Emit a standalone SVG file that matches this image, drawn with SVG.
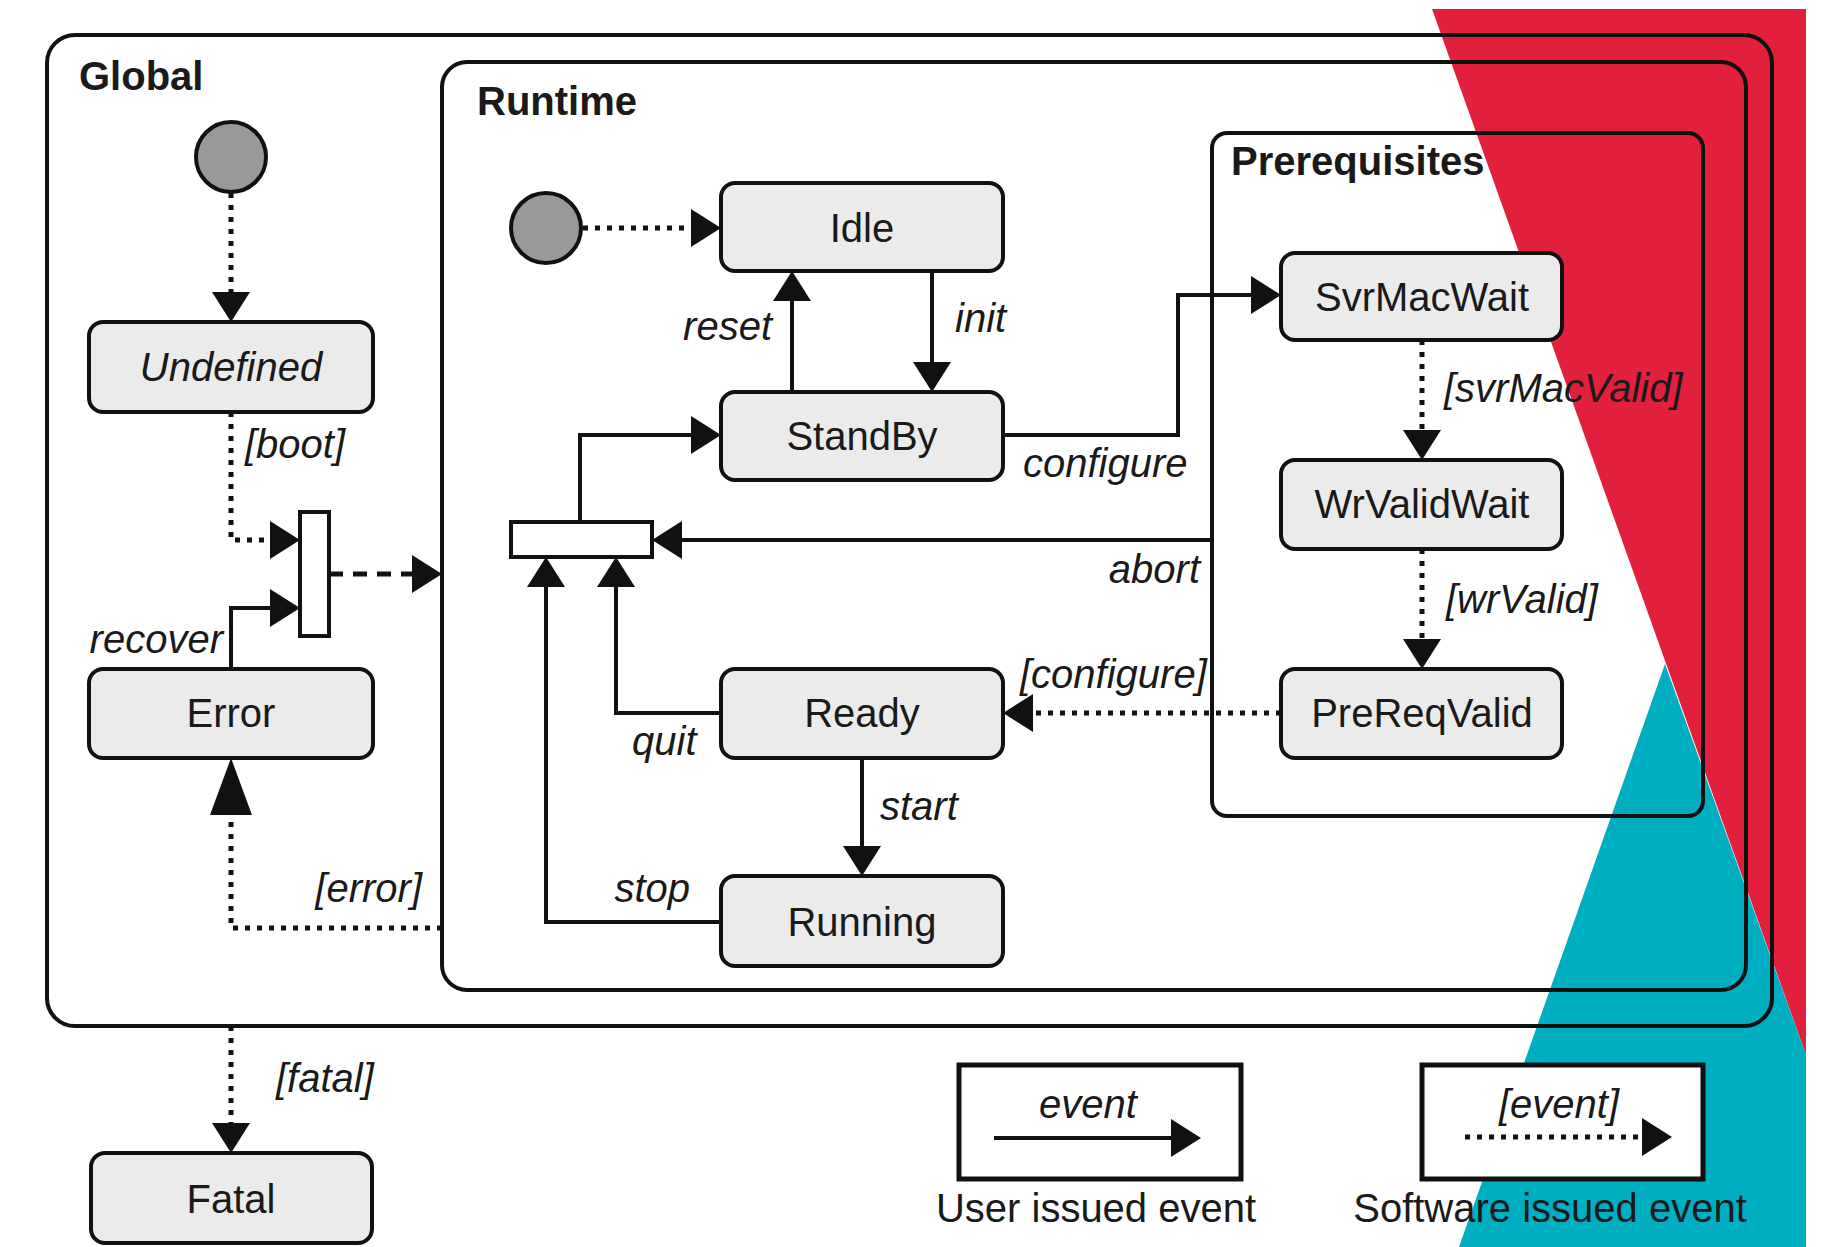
<svg xmlns="http://www.w3.org/2000/svg" width="1823" height="1247" viewBox="0 0 1823 1247">
  <style>
    text { font-family: "Liberation Sans", Arial, sans-serif; font-size: 40px; fill: #1a1a1a; }
    .title { font-weight: bold; }
    .lbl { font-style: italic; }
    .mid { text-anchor: middle; }
    .end { text-anchor: end; }
    .region { fill: none; stroke: #111; stroke-width: 4; }
    .state { fill: #ebebeb; stroke: #111; stroke-width: 4; }
    .init { fill: #999; stroke: #111; stroke-width: 4; }
    .bar { fill: #fff; stroke: #111; stroke-width: 4; }
    .legend { fill: #fff; stroke: #111; stroke-width: 5; }
    .user { fill: none; stroke: #111; stroke-width: 4; marker-end: url(#head); }
    .sw { fill: none; stroke: #111; stroke-width: 5; stroke-dasharray: 5 7; marker-end: url(#head); }
    .dash { fill: none; stroke: #111; stroke-width: 5; stroke-dasharray: 14 10; marker-end: url(#head); }
  </style>
  <defs>
    <!-- filled arrowhead, 30 long and 38 wide; the line stops at its base -->
    <marker id="head" markerUnits="userSpaceOnUse" markerWidth="32" markerHeight="40" refX="0" refY="19" orient="auto">
      <path d="M0,0 L30,19 L0,38 Z" fill="#111"/>
    </marker>
    <!-- longer arrowhead used on the error transition -->
    <marker id="headLong" markerUnits="userSpaceOnUse" markerWidth="60" markerHeight="44" refX="0" refY="21" orient="auto">
      <path d="M0,0 L57,21 L0,42 Z" fill="#111"/>
    </marker>
  </defs>

  <!-- backdrop shapes -->
  <polygon points="1432,9 1806,9 1806,1055" fill="#e21f3d"/>
  <polygon points="1665,664 1806,1055 1806,1247 1459,1247" fill="#00aec1"/>

  <!-- composite states -->
  <g id="global">
    <rect class="region" x="47" y="35" width="1725" height="991" rx="28"/>
    <text class="title" x="79" y="90">Global</text>
  </g>
  <g id="runtime">
    <rect class="region" x="442" y="62" width="1304" height="928" rx="25"/>
    <text class="title" x="477" y="115">Runtime</text>
  </g>
  <g id="prerequisites">
    <rect class="region" x="1212" y="133" width="491" height="683" rx="15"/>
    <text class="title" x="1231" y="175">Prerequisites</text>
  </g>

  <!-- transitions -->
  <g id="connectors">
    <path class="sw" d="M231,193 V292"/>
    <path class="sw" d="M583,228 H691"/>
    <path class="user" d="M792,392 V301"/>
    <path class="user" d="M932,271 V362"/>
    <path class="user" d="M580,522 V435 H691"/>
    <path class="user" d="M1003,435 H1178 V295 H1251"/>
    <path class="sw" d="M1422,340 V430"/>
    <path class="sw" d="M1422,549 V639"/>
    <path class="sw" d="M1281,713 H1033"/>
    <path class="user" d="M1212,540 H682"/>
    <path class="user" d="M721,713 H616 V587"/>
    <path class="user" d="M721,922 H546 V587"/>
    <path class="user" d="M862,758 V846"/>
    <path class="sw" d="M231,412 V540 H270"/>
    <path class="user" d="M231,669 V608 H270"/>
    <path class="dash" d="M329,574 H412"/>
    <path fill="none" stroke="#111" stroke-width="5" stroke-dasharray="5 7" marker-end="url(#headLong)" d="M442,928 H231 V815"/>
    <path class="sw" d="M231,1026 V1123"/>

    <text class="lbl" x="245" y="458">[boot]</text>
    <text class="lbl end" x="223" y="653">recover</text>
    <text class="lbl end" x="422" y="902">[error]</text>
    <text class="lbl end" x="772" y="340">reset</text>
    <text class="lbl" x="955" y="332">init</text>
    <text class="lbl" x="1023" y="477">configure</text>
    <text class="lbl end" x="1200" y="583">abort</text>
    <text class="lbl" x="1020" y="688">[configure]</text>
    <text class="lbl" x="632" y="755">quit</text>
    <text class="lbl" x="880" y="820">start</text>
    <text class="lbl end" x="690" y="902">stop</text>
    <text class="lbl" x="1444" y="402">[svrMacValid]</text>
    <text class="lbl" x="1446" y="613">[wrValid]</text>
    <text class="lbl" x="276" y="1092">[fatal]</text>
  </g>

  <!-- pseudo states -->
  <g id="global-initial"><circle class="init" cx="231" cy="157" r="35"/></g>
  <g id="runtime-initial"><circle class="init" cx="546" cy="228" r="35"/></g>
  <g id="global-join"><rect class="bar" x="300" y="512" width="29" height="124"/></g>
  <g id="runtime-join"><rect class="bar" x="511" y="522" width="141" height="35"/></g>

  <!-- simple states -->
  <g id="undefined">
    <rect class="state" x="89" y="322" width="284" height="90" rx="14"/>
    <text class="lbl mid" x="231" y="381">Undefined</text>
  </g>
  <g id="error">
    <rect class="state" x="89" y="669" width="284" height="89" rx="14"/>
    <text class="mid" x="231" y="727">Error</text>
  </g>
  <g id="fatal">
    <rect class="state" x="91" y="1153" width="281" height="90" rx="14"/>
    <text class="mid" x="231" y="1213">Fatal</text>
  </g>
  <g id="idle">
    <rect class="state" x="721" y="183" width="282" height="88" rx="14"/>
    <text class="mid" x="862" y="242">Idle</text>
  </g>
  <g id="standby">
    <rect class="state" x="721" y="392" width="282" height="88" rx="14"/>
    <text class="mid" x="862" y="450">StandBy</text>
  </g>
  <g id="ready">
    <rect class="state" x="721" y="669" width="282" height="89" rx="14"/>
    <text class="mid" x="862" y="727">Ready</text>
  </g>
  <g id="running">
    <rect class="state" x="721" y="876" width="282" height="90" rx="14"/>
    <text class="mid" x="862" y="936">Running</text>
  </g>
  <g id="svrmacwait">
    <rect class="state" x="1281" y="253" width="281" height="87" rx="14"/>
    <text class="mid" x="1422" y="311">SvrMacWait</text>
  </g>
  <g id="wrvalidwait">
    <rect class="state" x="1281" y="460" width="281" height="89" rx="14"/>
    <text class="mid" x="1422" y="518">WrValidWait</text>
  </g>
  <g id="prereqvalid">
    <rect class="state" x="1281" y="669" width="281" height="89" rx="14"/>
    <text class="mid" x="1422" y="727">PreReqValid</text>
  </g>

  <!-- key -->
  <g id="legend-user">
    <rect class="legend" x="959" y="1065" width="282" height="114"/>
    <text class="lbl mid" x="1088" y="1118">event</text>
    <path class="user" d="M994,1138 H1171"/>
    <text class="mid" x="1096" y="1222">User issued event</text>
  </g>
  <g id="legend-software">
    <rect class="legend" x="1422" y="1065" width="281" height="114"/>
    <text class="lbl mid" x="1559" y="1118">[event]</text>
    <path class="sw" d="M1465,1137 H1642"/>
    <text class="mid" x="1550" y="1222">Software issued event</text>
  </g>
</svg>
